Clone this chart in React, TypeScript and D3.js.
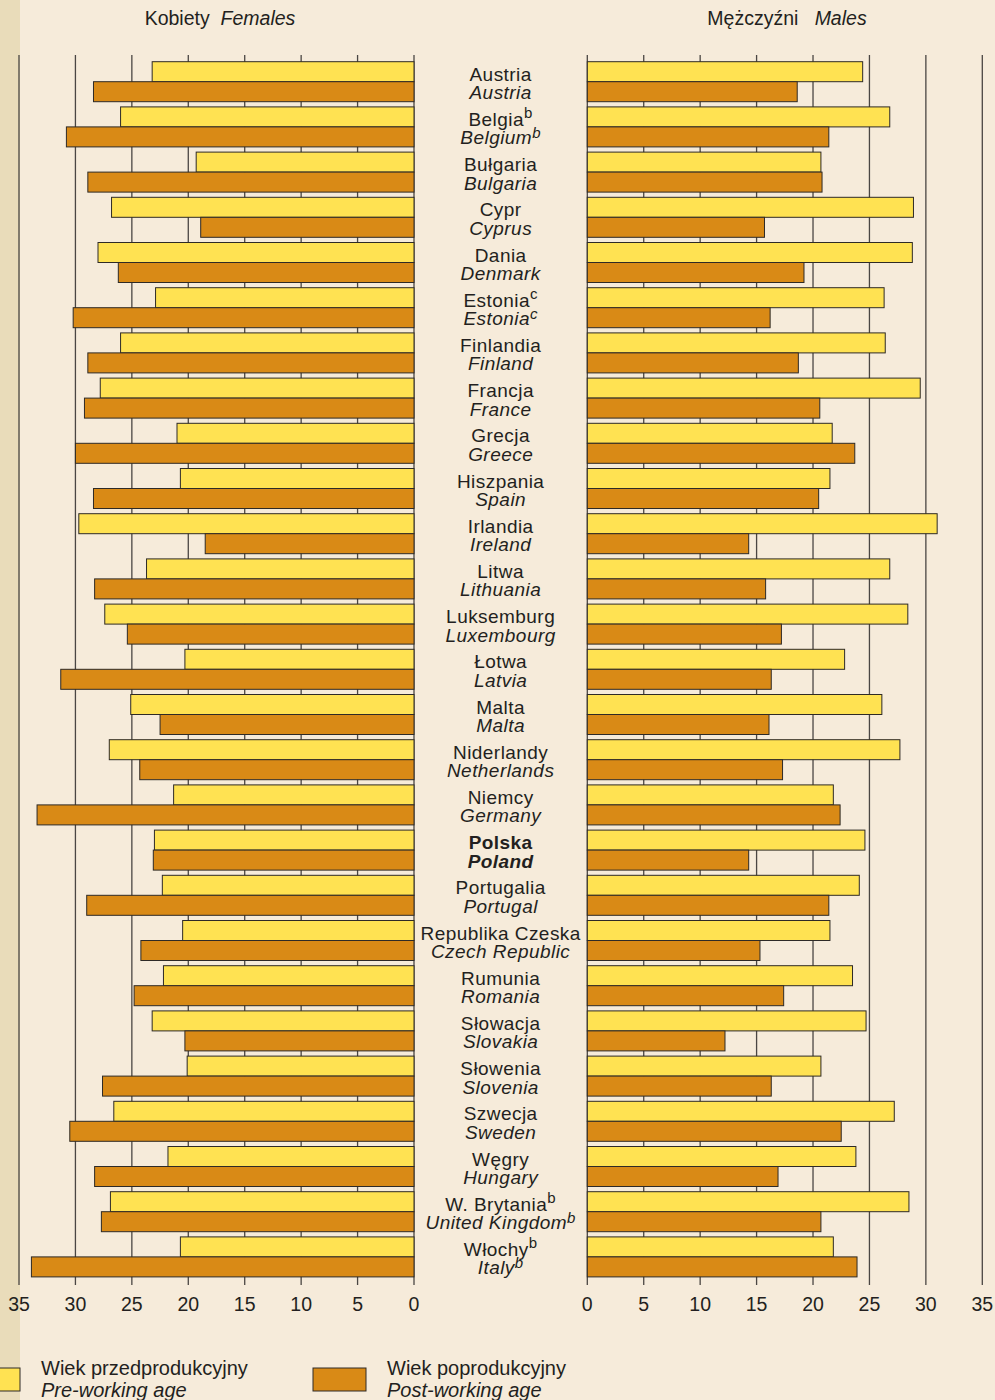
import React from 'react';
import * as d3 from 'd3';

const countriesPl = ['Austria','Belgia','Bułgaria','Cypr','Dania','Estonia','Finlandia','Francja','Grecja','Hiszpania','Irlandia','Litwa','Luksemburg','Łotwa','Malta','Niderlandy','Niemcy','Polska','Portugalia','Republika Czeska','Rumunia','Słowacja','Słowenia','Szwecja','Węgry','W. Brytania','Włochy'];
const countriesEn = ['Austria','Belgium','Bulgaria','Cyprus','Denmark','Estonia','Finland','France','Greece','Spain','Ireland','Lithuania','Luxembourg','Latvia','Malta','Netherlands','Germany','Poland','Portugal','Czech Republic','Romania','Slovakia','Slovenia','Sweden','Hungary','United Kingdom','Italy'];
const notes = ['','b','','','','c','','','','','','','','','','','','','','','','','','','','b','b'];

const femalePre = [23.2,26.0,19.3,26.8,28.0,22.9,26.0,27.8,21.0,20.7,29.7,23.7,27.4,20.3,25.1,27.0,21.3,23.0,22.3,20.5,22.2,23.2,20.1,26.6,21.8,26.9,20.7];
const femalePost = [28.4,30.8,28.9,18.9,26.2,30.2,28.9,29.2,30.0,28.4,18.5,28.3,25.4,31.3,22.5,24.3,33.4,23.1,29.0,24.2,24.8,20.3,27.6,30.5,28.3,27.7,33.9];
const malePre = [24.4,26.8,20.7,28.9,28.8,26.3,26.4,29.5,21.7,21.5,31.0,26.8,28.4,22.8,26.1,27.7,21.8,24.6,24.1,21.5,23.5,24.7,20.7,27.2,23.8,28.5,21.8];
const malePost = [18.6,21.4,20.8,15.7,19.2,16.2,18.7,20.6,23.7,20.5,14.3,15.8,17.2,16.3,16.1,17.3,22.4,14.3,21.4,15.3,17.4,12.2,16.3,22.5,16.9,20.7,23.9];
const tickValues = [0,5,10,15,20,25,30,35];

const titleFemale = ['Kobiety', 'Females'];
const titleMale = ['Mężczyźni', 'Males'];
const legendPre = ['Wiek przedprodukcyjny', 'Pre-working age'];
const legendPost = ['Wiek poprodukcyjny', 'Post-working age'];

const BG = '#f6ebda';
const STRIP = '#e9dcba';
const YELLOW = '#ffe252';
const ORANGE = '#d98a16';
const STROKE = '#2e2a26';
const TEXT = '#231f20';
const FONT = '"Liberation Sans", Arial, sans-serif';

export default function App() {
  const W = 995, H = 1400;
  const xL = d3.scaleLinear().domain([0, 35]).range([414, 19]);
  const xR = d3.scaleLinear().domain([0, 35]).range([587.3, 982.3]);
  const step = 45.2;
  const y = d3.scaleBand<string>().domain(countriesPl).range([61.7, 61.7 + step * countriesPl.length]).padding(0);
  const barH = 20;
  const gridTop = 55, gridBottom = 1285;
  const cx = (xL(0) + xR(0)) / 2;

  return (
    <div style={{ position: 'absolute', left: 0, top: 0 }}>
      <svg width={W} height={H} style={{ display: 'block', fontFamily: FONT }}>
        <rect x={0} y={0} width={W} height={H} fill={BG} />
        <rect x={0} y={0} width={20} height={H} fill={STRIP} />

        {/* titles */}
        <text x={220} y={25} textAnchor="middle" fontSize={19.5} fill={TEXT}>
          <tspan>{titleFemale[0] + '\u00a0\u00a0'}</tspan>
          <tspan fontStyle="italic">{titleFemale[1]}</tspan>
        </text>
        <text x={787} y={25} textAnchor="middle" fontSize={19.5} fill={TEXT}>
          <tspan>{titleMale[0] + '\u00a0\u00a0\u00a0'}</tspan>
          <tspan fontStyle="italic">{titleMale[1]}</tspan>
        </text>

        {/* gridlines */}
        {tickValues.map((t) => (
          <g key={'g' + t}>
            <line x1={xL(t)} x2={xL(t)} y1={gridTop} y2={gridBottom} stroke="#4a4643" strokeWidth={1.3} />
            <line x1={xR(t)} x2={xR(t)} y1={gridTop} y2={gridBottom} stroke="#4a4643" strokeWidth={1.3} />
            <text x={xL(t)} y={1310.5} textAnchor="middle" fontSize={19.5} fill={TEXT}>{t}</text>
            <text x={xR(t)} y={1310.5} textAnchor="middle" fontSize={19.5} fill={TEXT}>{t}</text>
          </g>
        ))}

        {/* bars */}
        {countriesPl.map((c, i) => {
          const y0 = y(c) as number;
          const bold = c === 'Polska' ? 'bold' : 'normal';
          return (
            <g key={c}>
              <rect x={xL(femalePre[i])} y={y0} width={xL(0) - xL(femalePre[i])} height={barH} fill={YELLOW} stroke={STROKE} strokeWidth={1} />
              <rect x={xL(femalePost[i])} y={y0 + barH} width={xL(0) - xL(femalePost[i])} height={barH} fill={ORANGE} stroke={STROKE} strokeWidth={1} />
              <rect x={xR(0)} y={y0} width={xR(malePre[i]) - xR(0)} height={barH} fill={YELLOW} stroke={STROKE} strokeWidth={1} />
              <rect x={xR(0)} y={y0 + barH} width={xR(malePost[i]) - xR(0)} height={barH} fill={ORANGE} stroke={STROKE} strokeWidth={1} />
              <text x={cx} y={y0 + 19} textAnchor="middle" fontSize={19} letterSpacing={0.45} fill={TEXT} fontWeight={bold}>
                <tspan>{c}</tspan>
                {notes[i] && <tspan fontSize={15} dy={-8}>{notes[i]}</tspan>}
              </text>
              <text x={cx} y={y0 + 37.5} textAnchor="middle" fontSize={19} letterSpacing={0.45} fill={TEXT} fontStyle="italic" fontWeight={bold}>
                <tspan>{countriesEn[i]}</tspan>
                {notes[i] && <tspan fontSize={15} dy={-6.5}>{notes[i]}</tspan>}
              </text>
            </g>
          );
        })}

        {/* legend */}
        <rect x={-1} y={1368} width={21} height={23} fill={YELLOW} stroke={STROKE} strokeWidth={1} />
        <text x={41} y={1375} fontSize={20} fill={TEXT}>{legendPre[0]}</text>
        <text x={41} y={1396.5} fontSize={20} fill={TEXT} fontStyle="italic">{legendPre[1]}</text>
        <rect x={313} y={1368} width={53} height={23} fill={ORANGE} stroke={STROKE} strokeWidth={1} />
        <text x={387} y={1375} fontSize={20} fill={TEXT}>{legendPost[0]}</text>
        <text x={387} y={1396.5} fontSize={20} fill={TEXT} fontStyle="italic">{legendPost[1]}</text>
      </svg>
    </div>
  );
}
